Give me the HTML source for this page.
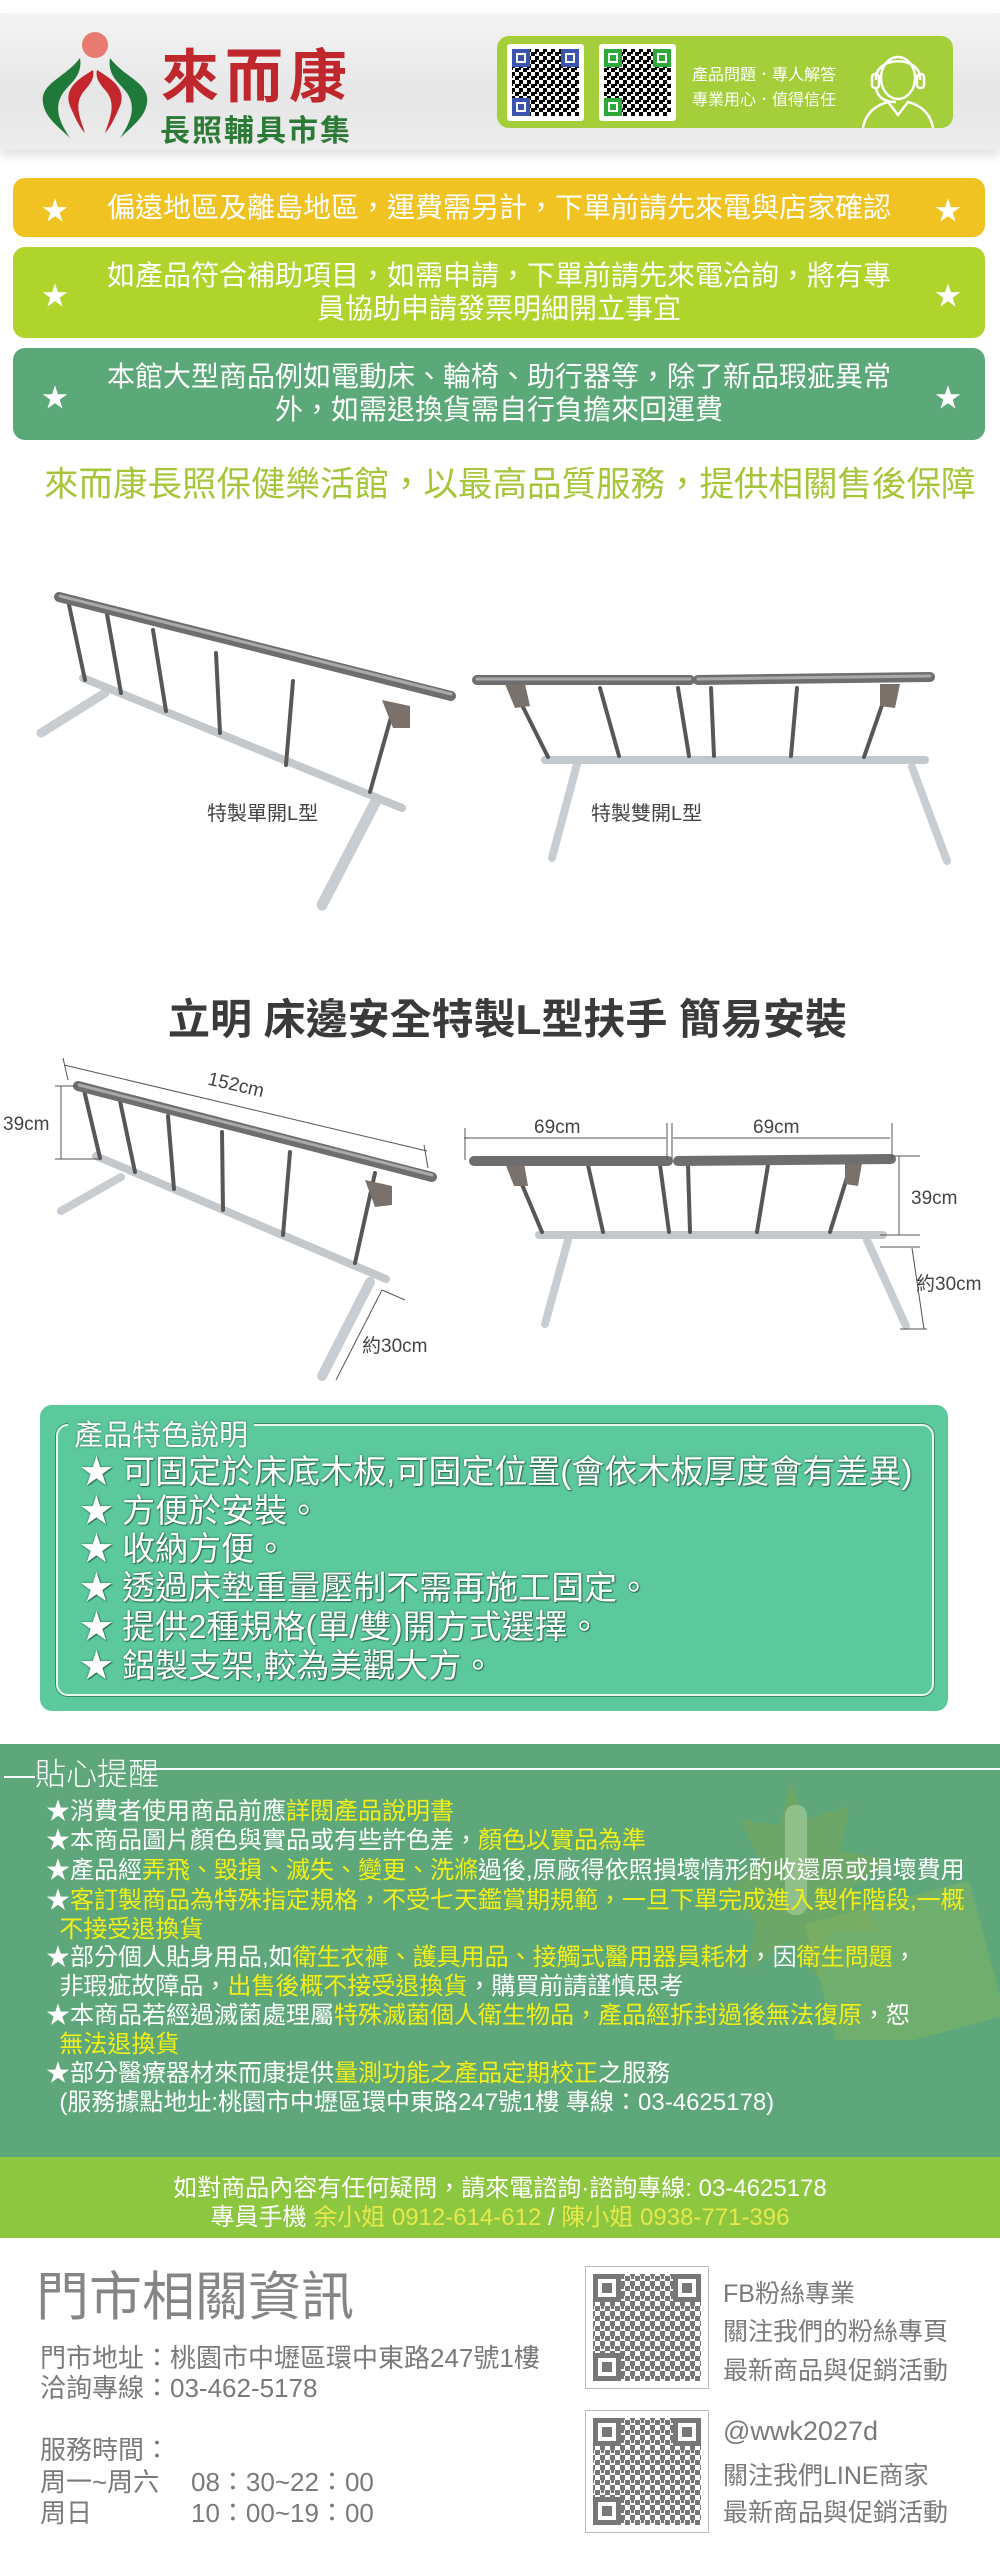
<!DOCTYPE html>
<html><head><meta charset="utf-8">
<style>
*{margin:0;padding:0;box-sizing:border-box}
body{width:1000px;height:2559px;position:relative;background:#fff;font-family:"Liberation Sans","Noto Sans CJK TC",sans-serif;overflow:hidden}
.a{position:absolute;white-space:nowrap}
.bar{position:absolute;left:13px;width:972px;border-radius:12px;color:#fff;text-align:center;font-size:28px}
.star{position:absolute;font-size:26px;color:#fff}
.feat{position:absolute;left:80px;color:#fff;font-size:33px;text-shadow:0 0 2px #2a6a50,1px 1px 1px #2a6a50}
.rm{position:absolute;left:46px;color:#fff;font-size:24px;white-space:nowrap;line-height:29px}
.y{color:#f3ef16}
.g{color:#7a7a7a}
</style></head><body>

<div class="a" style="left:0;top:13px;width:1000px;height:137px;background:linear-gradient(180deg,#f4f4f4,#e6e6e6 60%,#ececec);box-shadow:0 6px 10px rgba(0,0,0,0.12)"></div>
<svg class="a" style="left:35px;top:28px" width="125" height="115" viewBox="0 0 125 115">
<circle cx="60" cy="17" r="13" fill="#e87a72"/>
<path d="M45 30 C30 50 5 55 8 75 C10 90 25 100 35 110 C25 95 18 80 28 65 C35 55 48 48 45 30Z" fill="#1f7a3a"/>
<path d="M75 30 C90 50 115 55 112 75 C110 90 95 100 85 110 C95 95 102 80 92 65 C85 55 72 48 75 30Z" fill="#1f7a3a"/>
<path d="M58 42 C45 50 28 60 35 78 C40 90 45 100 50 105 C45 90 38 75 50 62 C55 56 60 50 58 42Z" fill="#c4262e"/>
<path d="M62 42 C75 50 92 60 85 78 C80 90 75 100 70 105 C75 90 82 75 70 62 C65 56 60 50 62 42Z" fill="#c4262e"/>
</svg>
<div class="a" style="left:161px;top:30px;font-size:58px;font-weight:bold;color:#c0272d;letter-spacing:6px">來而康</div>
<div class="a" style="left:160px;top:106px;font-size:30px;font-weight:bold;color:#2d7a36;letter-spacing:2px">長照輔具市集</div>

<div class="a" style="left:497px;top:36px;width:456px;height:92px;background:#a4ce3a;border-radius:12px"></div>
<svg class="a" style="left:507px;top:44px" width="170" height="78">
<defs>
<pattern id="qp" width="8" height="8" patternUnits="userSpaceOnUse"><rect width="4" height="4" fill="currentColor"/><rect x="4" y="4" width="4" height="4" fill="currentColor"/><rect x="4" y="0" width="2" height="2" fill="currentColor"/></pattern>
</defs>
<rect x="0" y="0" width="77" height="77" fill="#fff" rx="3"/>
<rect x="5" y="5" width="67" height="67" fill="url(#qp)" style="color:#3a55b0"/>
<rect x="5" y="5" width="18" height="18" fill="#3a55b0"/><rect x="9" y="9" width="10" height="10" fill="#fff"/><rect x="11" y="11" width="6" height="6" fill="#3a55b0"/>
<rect x="54" y="5" width="18" height="18" fill="#3a55b0"/><rect x="58" y="9" width="10" height="10" fill="#fff"/><rect x="60" y="11" width="6" height="6" fill="#3a55b0"/>
<rect x="5" y="54" width="18" height="18" fill="#3a55b0"/><rect x="9" y="58" width="10" height="10" fill="#fff"/><rect x="11" y="60" width="6" height="6" fill="#3a55b0"/>
<rect x="92" y="0" width="77" height="77" fill="#fff" rx="3"/>
<rect x="97" y="5" width="67" height="67" fill="url(#qp)" style="color:#2fa83a"/>
<rect x="97" y="5" width="18" height="18" fill="#2fa83a"/><rect x="101" y="9" width="10" height="10" fill="#fff"/><rect x="103" y="11" width="6" height="6" fill="#2fa83a"/>
<rect x="146" y="5" width="18" height="18" fill="#2fa83a"/><rect x="150" y="9" width="10" height="10" fill="#fff"/><rect x="152" y="11" width="6" height="6" fill="#2fa83a"/>
<rect x="97" y="54" width="18" height="18" fill="#2fa83a"/><rect x="101" y="58" width="10" height="10" fill="#fff"/><rect x="103" y="60" width="6" height="6" fill="#2fa83a"/>
</svg>
<div class="a" style="left:692px;top:61px;font-size:16px;color:#fff">產品問題．專人解答</div>
<div class="a" style="left:692px;top:86px;font-size:16px;color:#fff">專業用心．值得信任</div>
<svg class="a" style="left:858px;top:40px" width="80" height="88" fill="none" stroke="#fff" stroke-width="2.5">
<ellipse cx="40" cy="38" rx="17" ry="21"/>
<path d="M18 40 C16 15 64 15 62 40"/>
<rect x="14" y="34" width="7" height="14" rx="3"/><rect x="59" y="34" width="7" height="14" rx="3"/>
<path d="M18 48 C20 60 30 62 38 62"/>
<path d="M5 88 C8 70 22 64 30 62 L40 75 L50 62 C58 64 72 70 75 88"/>
</svg>

<div class="bar" style="top:178px;height:59px;background:#f0c322;line-height:59px">偏遠地區及離島地區，運費需另計，下單前請先來電與店家確認</div>
<div class="star" style="left:42px;top:191px">★</div><div class="star" style="left:935px;top:191px">★</div>
<div class="bar" style="top:247px;height:91px;background:#afd42c;line-height:33px;padding-top:12px">如產品符合補助項目，如需申請，下單前請先來電洽詢，將有專<br>員協助申請發票明細開立事宜</div>
<div class="star" style="left:42px;top:276px">★</div><div class="star" style="left:935px;top:276px">★</div>
<div class="bar" style="top:348px;height:92px;background:#5ba878;line-height:33px;padding-top:12px">本館大型商品例如電動床、輪椅、助行器等，除了新品瑕疵異常<br>外，如需退換貨需自行負擔來回運費</div>
<div class="star" style="left:42px;top:378px">★</div><div class="star" style="left:935px;top:378px">★</div>
<div class="a" style="left:44px;top:456px;font-size:34.5px;color:#a6c63a">來而康長照保健樂活館，以最高品質服務，提供相關售後保障</div>

<svg class="a" style="left:0;top:560px" width="1000" height="830" viewBox="0 560 1000 830">
<g stroke-linecap="round">
<line x1="105" y1="693" x2="41" y2="733" stroke="#c8cdd2" stroke-width="9"/>
<line x1="376" y1="801" x2="322" y2="905" stroke="#c8cdd2" stroke-width="11"/>
<line x1="83" y1="678" x2="402" y2="808" stroke="#c3c8cc" stroke-width="8"/>
<g stroke="#595656" stroke-width="4">
<line x1="68" y1="600" x2="85" y2="680"/><line x1="107" y1="614" x2="121" y2="693"/><line x1="153" y1="630" x2="166" y2="711"/><line x1="216" y1="653" x2="220" y2="733"/><line x1="293" y1="681" x2="286" y2="765"/><line x1="393" y1="710" x2="370" y2="792"/>
</g>
<polygon points="382,700 410,706 410,728 393,728" fill="#7a716a"/>
<line x1="59" y1="597" x2="451" y2="696" stroke="#6e6e70" stroke-width="10"/>
<line x1="60" y1="596" x2="451" y2="694" stroke="#a9a9ab" stroke-width="3"/>
<line x1="577" y1="764" x2="552" y2="858" stroke="#c8cdd2" stroke-width="8"/>
<line x1="912" y1="767" x2="947" y2="861" stroke="#c8cdd2" stroke-width="8"/>
<line x1="545" y1="760" x2="925" y2="760" stroke="#c3c8cc" stroke-width="8"/>
<g stroke="#595656" stroke-width="4">
<line x1="515" y1="691" x2="548" y2="757"/><line x1="600" y1="688" x2="619" y2="756"/><line x1="678" y1="688" x2="689" y2="756"/><line x1="711" y1="688" x2="714" y2="756"/><line x1="797" y1="688" x2="791" y2="756"/><line x1="887" y1="691" x2="864" y2="757"/>
</g>
<polygon points="505,684 525,684 530,706 515,708" fill="#7a716a"/><polygon points="880,684 900,684 895,708 880,706" fill="#7a716a"/>
<line x1="477" y1="680" x2="690" y2="680" stroke="#6e6e70" stroke-width="10"/>
<line x1="698" y1="680" x2="930" y2="677" stroke="#6e6e70" stroke-width="10"/>
<line x1="477" y1="679" x2="690" y2="679" stroke="#a9a9ab" stroke-width="3"/><line x1="698" y1="679" x2="930" y2="676" stroke="#a9a9ab" stroke-width="3"/>
<line x1="121" y1="1177" x2="61" y2="1211" stroke="#c8cdd2" stroke-width="8"/>
<line x1="370" y1="1282" x2="322" y2="1376" stroke="#c8cdd2" stroke-width="10"/>
<line x1="96" y1="1156" x2="386" y2="1279" stroke="#c3c8cc" stroke-width="8"/>
<g stroke="#595656" stroke-width="4">
<line x1="84" y1="1090" x2="100" y2="1158"/><line x1="120" y1="1101" x2="135" y2="1172"/><line x1="168" y1="1116" x2="174" y2="1189"/><line x1="222" y1="1132" x2="223" y2="1210"/><line x1="290" y1="1152" x2="283" y2="1235"/><line x1="375" y1="1173" x2="355" y2="1263"/>
</g>
<polygon points="365,1180 392,1186 392,1205 375,1207" fill="#7a716a"/>
<line x1="78" y1="1086" x2="432" y2="1177" stroke="#6e6e70" stroke-width="10"/>
<line x1="79" y1="1085" x2="432" y2="1175" stroke="#a9a9ab" stroke-width="3"/>
<line x1="568" y1="1240" x2="545" y2="1324" stroke="#c8cdd2" stroke-width="8"/>
<line x1="867" y1="1240" x2="906" y2="1326" stroke="#c8cdd2" stroke-width="8"/>
<line x1="539" y1="1235" x2="883" y2="1235" stroke="#c3c8cc" stroke-width="8"/>
<g stroke="#595656" stroke-width="4">
<line x1="515" y1="1168" x2="542" y2="1232"/><line x1="588" y1="1165" x2="603" y2="1232"/><line x1="660" y1="1165" x2="669" y2="1232"/><line x1="688" y1="1165" x2="690" y2="1232"/><line x1="768" y1="1165" x2="757" y2="1232"/><line x1="850" y1="1168" x2="830" y2="1232"/>
</g>
<polygon points="505,1163 524,1163 528,1186 514,1186" fill="#7a716a"/><polygon points="845,1163 862,1163 858,1186 845,1184" fill="#7a716a"/>
<line x1="474" y1="1161" x2="668" y2="1161" stroke="#6e6e70" stroke-width="10"/>
<line x1="678" y1="1161" x2="891" y2="1159" stroke="#6e6e70" stroke-width="10"/>
</g>
<g stroke="#555" stroke-width="1" fill="none">
<line x1="64" y1="1065" x2="427" y2="1151"/><line x1="63" y1="1058" x2="68" y2="1080"/><line x1="424" y1="1145" x2="428" y2="1168"/>
<line x1="61" y1="1086" x2="61" y2="1159"/><line x1="55" y1="1086" x2="78" y2="1086"/><line x1="55" y1="1159" x2="100" y2="1159"/>
<line x1="382" y1="1290" x2="336" y2="1380"/><line x1="382" y1="1290" x2="405" y2="1300"/>
<line x1="464" y1="1138" x2="666" y2="1138"/><line x1="673" y1="1138" x2="890" y2="1138"/>
<line x1="465" y1="1128" x2="465" y2="1160"/><line x1="667" y1="1123" x2="667" y2="1160"/><line x1="672" y1="1123" x2="672" y2="1160"/><line x1="892" y1="1123" x2="892" y2="1160"/>
<line x1="899" y1="1156" x2="899" y2="1235"/><line x1="893" y1="1156" x2="920" y2="1156"/><line x1="880" y1="1235" x2="920" y2="1235"/>
<line x1="912" y1="1248" x2="924" y2="1329"/><line x1="880" y1="1247" x2="920" y2="1247"/><line x1="900" y1="1329" x2="927" y2="1329"/>
</g>
<g font-family="Liberation Sans,Noto Sans CJK TC,sans-serif" fill="#444">
<text x="207" y="820" font-size="20">特製單開L型</text>
<text x="591" y="820" font-size="20">特製雙開L型</text>
<text x="206" y="1092" font-size="19" transform="rotate(13 240 1092)">152cm</text>
<text x="3" y="1130" font-size="19">39cm</text>
<text x="362" y="1352" font-size="19">約30cm</text>
<text x="534" y="1133" font-size="19">69cm</text>
<text x="753" y="1133" font-size="19">69cm</text>
<text x="911" y="1204" font-size="19">39cm</text>
<text x="916" y="1290" font-size="19">約30cm</text>
</g>
</svg>
<div class="a" style="left:168px;top:986px;font-size:42px;font-weight:bold;color:#3a3a3a">立明 床邊安全特製L型扶手 簡易安裝</div>

<div class="a" style="left:40px;top:1405px;width:908px;height:306px;background:#5bc99b;border-radius:12px"></div>
<div class="a" style="left:56px;top:1424px;width:878px;height:272px;border:2px solid #e8f5ee;border-radius:12px;box-shadow:0 0 0 1px #3a8a68"></div>
<div class="a" style="left:68px;top:1412px;padding:0 6px;background:#5bc99b;font-size:29px;color:#fff;text-shadow:0 0 2px #2a6a50">產品特色說明</div>
<div class="feat" style="top:1445px">★ 可固定於床底木板,可固定位置(會依木板厚度會有差異)</div>
<div class="feat" style="top:1484px">★ 方便於安裝。</div>
<div class="feat" style="top:1522px">★ 收納方便。</div>
<div class="feat" style="top:1561px">★ 透過床墊重量壓制不需再施工固定。</div>
<div class="feat" style="top:1600px">★ 提供2種規格(單/雙)開方式選擇。</div>
<div class="feat" style="top:1639px">★ 鋁製支架,較為美觀大方。</div>

<div class="a" style="left:0;top:1744px;width:1000px;height:413px;background:#5da77b"></div>
<svg class="a" style="left:730px;top:1780px" width="270" height="260">
<polygon points="60,0 75,40 120,25 110,70 160,80 120,110 150,150 100,150 90,200 60,160 20,190 25,140 0,110 30,80 10,40 50,45" fill="#7aa85a" opacity="0.55"/>
<rect x="90" y="120" width="170" height="140" fill="#86b85e" opacity="0.45" transform="rotate(-15 175 190)"/>
<rect x="55" y="25" width="22" height="110" rx="10" fill="#a8cfa0" opacity="0.6"/>
</svg>
<div class="a" style="left:4px;top:1749px;font-size:31px;color:#fff;font-weight:300">—貼心提醒</div>
<div class="a" style="left:140px;top:1768px;width:860px;height:2px;background:#fff"></div>
<div class="rm" style="top:1797px">★消費者使用商品前應<span class="y">詳閱產品說明書</span></div>
<div class="rm" style="top:1826px">★本商品圖片顏色與實品或有些許色差，<span class="y">顏色以實品為準</span></div>
<div class="rm" style="top:1856px">★產品經<span class="y">弄飛、毀損、滅失、變更、洗滌</span>過後,原廠得依照損壞情形酌收還原或損壞費用</div>
<div class="rm" style="top:1886px">★<span class="y">客訂製商品為特殊指定規格，不受七天鑑賞期規範，一旦下單完成進入製作階段,一概<br>&nbsp;&nbsp;不接受退換貨</span></div>
<div class="rm" style="top:1943px">★部分個人貼身用品,如<span class="y">衛生衣褲、護具用品、接觸式醫用器員耗材</span>，因<span class="y">衛生問題</span>，<br>&nbsp;&nbsp;非瑕疵故障品，<span class="y">出售後概不接受退換貨</span>，購買前請謹慎思考</div>
<div class="rm" style="top:2001px">★本商品若經過滅菌處理屬<span class="y">特殊滅菌個人衛生物品，產品經拆封過後無法復原</span>，恕<br>&nbsp;&nbsp;<span class="y">無法退換貨</span></div>
<div class="rm" style="top:2059px">★部分醫療器材來而康提供<span class="y">量測功能之產品定期校正</span>之服務<br>&nbsp;&nbsp;(服務據點地址:桃園市中壢區環中東路247號1樓 專線：03-4625178)</div>

<div class="a" style="left:0;top:2157px;width:1000px;height:81px;background:#8dc63f"></div>
<div class="a" style="left:0;top:2168px;width:1000px;text-align:center;font-size:24px;color:#fff">如對商品內容有任何疑問，請來電諮詢·諮詢專線: 03-4625178</div>
<div class="a" style="left:0;top:2197px;width:1000px;text-align:center;font-size:24px;color:#fff">專員手機 <span style="color:#e8e84a">余小姐 0912-614-612</span> / <span style="color:#e8e84a">陳小姐 0938-771-396</span></div>

<div class="a g" style="left:36px;top:2255px;font-size:53px;color:#858585">門市相關資訊</div>
<div class="a g" style="left:40px;top:2338px;font-size:26px">門市地址：桃園市中壢區環中東路247號1樓</div>
<div class="a g" style="left:40px;top:2368px;font-size:26px">洽詢專線：03-462-5178</div>
<div class="a g" style="left:40px;top:2430px;font-size:26px">服務時間：</div>
<div class="a g" style="left:40px;top:2462px;font-size:26px">周一~周六</div>
<div class="a g" style="left:191px;top:2462px;font-size:26px">08：30~22：00</div>
<div class="a g" style="left:40px;top:2493px;font-size:26px">周日</div>
<div class="a g" style="left:191px;top:2493px;font-size:26px">10：00~19：00</div>

<svg class="a" style="left:585px;top:2266px" width="124" height="268">
<defs><pattern id="qg" width="10" height="10" patternUnits="userSpaceOnUse"><rect width="5" height="5" fill="#777"/><rect x="5" y="5" width="5" height="5" fill="#777"/><rect x="6" y="0" width="3" height="3" fill="#777"/></pattern></defs>
<g>
<rect x="0.5" y="0.5" width="123" height="122" fill="#fff" stroke="#bbb"/>
<rect x="8" y="8" width="108" height="107" fill="url(#qg)"/>
<rect x="8" y="8" width="28" height="28" fill="#777"/><rect x="13" y="13" width="18" height="18" fill="#fff"/><rect x="17" y="17" width="10" height="10" fill="#777"/>
<rect x="88" y="8" width="28" height="28" fill="#777"/><rect x="93" y="13" width="18" height="18" fill="#fff"/><rect x="97" y="17" width="10" height="10" fill="#777"/>
<rect x="8" y="87" width="28" height="28" fill="#777"/><rect x="13" y="92" width="18" height="18" fill="#fff"/><rect x="17" y="96" width="10" height="10" fill="#777"/>
</g>
<g transform="translate(0,144)">
<rect x="0.5" y="0.5" width="123" height="122" fill="#fff" stroke="#bbb"/>
<rect x="8" y="8" width="108" height="107" fill="url(#qg)"/>
<rect x="8" y="8" width="28" height="28" fill="#777"/><rect x="13" y="13" width="18" height="18" fill="#fff"/><rect x="17" y="17" width="10" height="10" fill="#777"/>
<rect x="88" y="8" width="28" height="28" fill="#777"/><rect x="93" y="13" width="18" height="18" fill="#fff"/><rect x="97" y="17" width="10" height="10" fill="#777"/>
<rect x="8" y="87" width="28" height="28" fill="#777"/><rect x="13" y="92" width="18" height="18" fill="#fff"/><rect x="17" y="96" width="10" height="10" fill="#777"/>
</g>
</svg>
<div class="a g" style="left:723px;top:2274px;font-size:25px">FB粉絲專業</div>
<div class="a g" style="left:723px;top:2312px;font-size:25px">關注我們的粉絲專頁</div>
<div class="a g" style="left:723px;top:2351px;font-size:25px">最新商品與促銷活動</div>
<div class="a g" style="left:723px;top:2416px;font-size:27px">@wwk2027d</div>
<div class="a g" style="left:723px;top:2456px;font-size:25px">關注我們LINE商家</div>
<div class="a g" style="left:723px;top:2493px;font-size:25px">最新商品與促銷活動</div>
</body></html>
